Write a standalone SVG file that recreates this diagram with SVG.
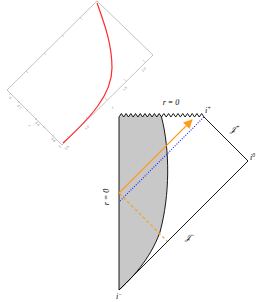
<svg xmlns="http://www.w3.org/2000/svg" width="263" height="302" viewBox="0 0 263 302">
<style>
.frame{fill:none;stroke:#9a9a9a;stroke-width:0.6}
.tick{stroke:#9a9a9a;stroke-width:0.5}
.tl{font-family:"Liberation Sans",sans-serif;font-size:3.2px;fill:#777}
.ax{font-family:"Liberation Serif",serif;font-style:italic;font-size:4.5px;fill:#777}
.ln{fill:none;stroke:#000;stroke-width:0.9}
.lab{font-family:"Liberation Serif","DejaVu Serif",serif;font-style:italic;font-size:8px;fill:#000}
.sup{font-size:5.5px}
</style>
<defs>
<marker id="ah" viewBox="0 0 10 10" refX="9" refY="5" markerWidth="9" markerHeight="9" markerUnits="userSpaceOnUse" orient="auto">
<path d="M0,0 L10,5 L0,10 Z" fill="#ff9a1a"/>
</marker>
</defs>

<g id="plot">
<polygon class="frame" points="97,1 7,90 62,145 153,55"/>
<g class="tick">
<line x1="9" y1="95" x2="11" y2="93"/>
<line x1="17.5" y1="103" x2="19.5" y2="101"/>
<line x1="26" y1="111.5" x2="28" y2="109.5"/>
<line x1="35" y1="120" x2="37" y2="118"/>
<line x1="43.5" y1="128" x2="45.5" y2="126"/>
<line x1="52" y1="136.5" x2="54" y2="134.5"/>
<line x1="69" y1="138" x2="67" y2="136"/>
<line x1="88" y1="119" x2="86" y2="117"/>
<line x1="107" y1="100" x2="105" y2="98"/>
<line x1="126" y1="81" x2="124" y2="79"/>
<line x1="145" y1="62" x2="143" y2="60"/>
<line x1="80" y1="17.5" x2="82" y2="19.5"/>
<line x1="62" y1="35" x2="64" y2="37"/>
<line x1="44" y1="53" x2="46" y2="55"/>
<line x1="26" y1="71" x2="28" y2="73"/>
</g>
<text class="tl" transform="translate(9,98) rotate(45)">0</text>
<text class="tl" transform="translate(17,106) rotate(45)">0.2</text>
<text class="tl" transform="translate(35,123) rotate(45)">0.4</text>
<text class="tl" transform="translate(51,139) rotate(45)">0.6</text>
<text class="ax" transform="translate(28,126) rotate(45)">r</text>
<text class="tl" transform="translate(60,148) rotate(-45)">0</text>
<text class="tl" transform="translate(66,150) rotate(-45)">0.5</text>
<text class="tl" transform="translate(86,130) rotate(-45)">1.0</text>
<text class="tl" transform="translate(124,91) rotate(-45)">1.5</text>
<text class="tl" transform="translate(143,72) rotate(-45)">2.0</text>
<text class="ax" transform="translate(113,109) rotate(-45)">t</text>
<path d="M63,143 C90,118 112,95 112,68 C112,45 105,25 97,3" fill="none" stroke="#ff2a2a" stroke-width="1.2"/>
</g>

<g id="interior">
<path d="M119,117 L121.36,113.5 L123.72,117 L126.08,113.5 L128.44,117 L130.81,113.5 L133.17,117 L135.53,113.5 L137.89,117 L140.25,113.5 L142.61,117 L144.97,113.5 L147.33,117 L149.69,113.5 L152.06,117 L154.42,113.5 L156.78,117 L159.14,113.5 L161.5,117 C170,150 170,195 160,232 C150,260 130,280 119,290 Z" fill="#c8c8c8" stroke="none"/>
<path class="ln" d="M161.5,117 C170,150 170,195 160,232 C150,260 130,280 119,290" stroke-width="1.1"/>
</g>

<g id="penrose">
<path class="ln" d="M119,117 L121.36,113.5 L123.72,117 L126.08,113.5 L128.44,117 L130.81,113.5 L133.17,117 L135.53,113.5 L137.89,117 L140.25,113.5 L142.61,117 L144.97,113.5 L147.33,117 L149.69,113.5 L152.06,117 L154.42,113.5 L156.78,117 L159.14,113.5 L161.5,117 L163.86,113.5 L166.22,117 L168.58,113.5 L170.94,117 L173.31,113.5 L175.67,117 L178.03,113.5 L180.39,117 L182.75,113.5 L185.11,117 L187.47,113.5 L189.83,117 L192.19,113.5 L194.56,117 L196.92,113.5 L199.28,117 L201.64,113.5 L204,117 L248,161 L119,290 Z"/>
</g>

<g id="labels">
<text class="lab" x="171" y="105" text-anchor="middle">r = 0</text>
<text class="lab" x="205" y="113">i<tspan class="sup" dy="-3">+</tspan></text>
<text class="lab" x="230" y="132">𝒥<tspan class="sup" dy="-3">+</tspan></text>
<text class="lab" x="250" y="160">i<tspan class="sup" dy="-3">0</tspan></text>
<text class="lab" x="185" y="240">𝒥<tspan class="sup" dy="-3">−</tspan></text>
<text class="lab" x="116" y="299">i<tspan class="sup" dy="-3">−</tspan></text>
<text class="lab" transform="translate(109,197) rotate(-90)" text-anchor="middle">r = 0</text>
</g>

<g id="connectors">
<line x1="119" y1="193" x2="192" y2="120" stroke="#ff9a1a" stroke-width="1.1" marker-end="url(#ah)"/>
<line x1="120" y1="201" x2="204" y2="117" stroke="#1a1aff" stroke-width="1.1" stroke-dasharray="1,1.5"/>
<line x1="119.5" y1="193.5" x2="167" y2="241" stroke="#ff9a1a" stroke-width="1.1" stroke-dasharray="3,2.5"/>
</g>
</svg>
